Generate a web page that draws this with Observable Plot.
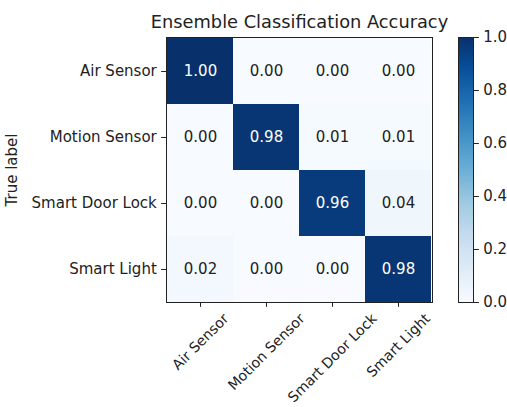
<!DOCTYPE html>
<html>
<head>
<meta charset="utf-8">
<script src="https://cdn.jsdelivr.net/npm/d3@7"></script>
<script src="https://cdn.jsdelivr.net/npm/@observablehq/plot@0.6"></script>
<style>
  html, body { margin: 0; padding: 0; background: white; }
  #chart { position: relative; width: 507px; height: 407px; background: white; overflow: hidden; }
  #chart svg { position: absolute; top: 0; }
</style>
</head>
<body>
<div id="chart"></div>
<script>
const categories = ["Air Sensor", "Motion Sensor", "Smart Door Lock", "Smart Light"];
const rowAir = [1.00, 0.00, 0.00, 0.00];
const rowMotion = [0.00, 0.98, 0.01, 0.01];
const rowDoor = [0.00, 0.00, 0.96, 0.04];
const rowLight = [0.02, 0.00, 0.00, 0.98];
const colorbarTicks = [0.0, 0.2, 0.4, 0.6, 0.8, 1.0];
const titleText = "Ensemble Classification Accuracy";
const yLabelText = "True label";

const rows = [rowAir, rowMotion, rowDoor, rowLight];
const cells = categories.flatMap((t, i) =>
  categories.map((p, j) => ({truth: t, pred: p, value: rows[i][j]})));

const blues9 = ["#f7fbff", "#deebf7", "#c6dbef", "#9ecae1", "#6baed6", "#4292c6", "#2171b5", "#08519c", "#08306b"];
const colorOpts = {type: "linear", domain: blues9.map((_, i) => i / 8), range: blues9, interpolate: "rgb"};

const FONT = "DejaVu Sans";
const FS = 15;
const XFS = 14.2;
const TICK = 4.86;

// measure label widths for matplotlib-like rotated (ha=center) tick labels
const ctx = document.createElement("canvas").getContext("2d");
ctx.font = `${XFS}px "${FONT}"`;
const h = XFS * 1.0;
const xLabels = categories.map(c => {
  const L = ctx.measureText(c).width;
  const H = (L + h) * Math.SQRT1_2;
  return Plot.text([c], {
    x: d => d, frameAnchor: "bottom", dy: TICK * 2 - 1 + H / 2, fontSize: XFS,
    rotate: -45, textAnchor: "middle", lineAnchor: "middle", fill: "#222"
  });
});

const main = Plot.plot({
  width: 440, height: 407,
  marginLeft: 166, marginRight: 8, marginTop: 37, marginBottom: 105,
  style: {fontFamily: FONT, fontSize: FS + "px", color: "#222", background: "transparent", overflow: "visible"},
  x: {domain: categories, padding: 0, tickSize: TICK, tickFormat: () => "", label: null},
  y: {domain: categories, padding: 0, tickSize: TICK, tickPadding: TICK, label: null},
  color: colorOpts,
  marks: [
    Plot.cell(cells, {x: "pred", y: "truth", fill: "value"}),
    Plot.text(cells.filter(d => d.value > 0.5), {x: "pred", y: "truth", text: d => d.value.toFixed(2), fill: "white"}),
    Plot.text(cells.filter(d => d.value <= 0.5), {x: "pred", y: "truth", text: d => d.value.toFixed(2), fill: "#222"}),
    Plot.frame({stroke: "#222", strokeWidth: 1}),
    ...xLabels,
    Plot.text([titleText], {frameAnchor: "top", dy: -15.5, fontSize: 17.8, lineAnchor: "middle", fill: "#222"}),
    Plot.text([yLabelText], {frameAnchor: "left", dx: -154, rotate: -90, lineAnchor: "middle", textAnchor: "middle", fill: "#222"})
  ]
});
main.style.left = "0px";

const N = 265;
const steps = d3.range(N);
const cbar = Plot.plot({
  width: 67, height: 407,
  marginLeft: 18, marginRight: 34, marginTop: 37, marginBottom: 105,
  style: {fontFamily: FONT, fontSize: FS + "px", color: "#222", background: "transparent", overflow: "visible"},
  x: {domain: [0, 1], axis: null},
  y: {domain: [0, 1], axis: "right", ticks: colorbarTicks, tickFormat: d => d.toFixed(1), tickSize: TICK, tickPadding: TICK, label: null},
  color: colorOpts,
  marks: [
    Plot.rect(steps, {x1: 0, x2: 1, y1: i => i / N, y2: i => Math.min(1, (i + 1.6) / N), fill: i => (i + 0.5) / N}),
    Plot.frame({stroke: "#222", strokeWidth: 1})
  ]
});
cbar.style.left = "440px";

const root = document.getElementById("chart");
root.appendChild(main);
root.appendChild(cbar);
</script>
</body>
</html>
